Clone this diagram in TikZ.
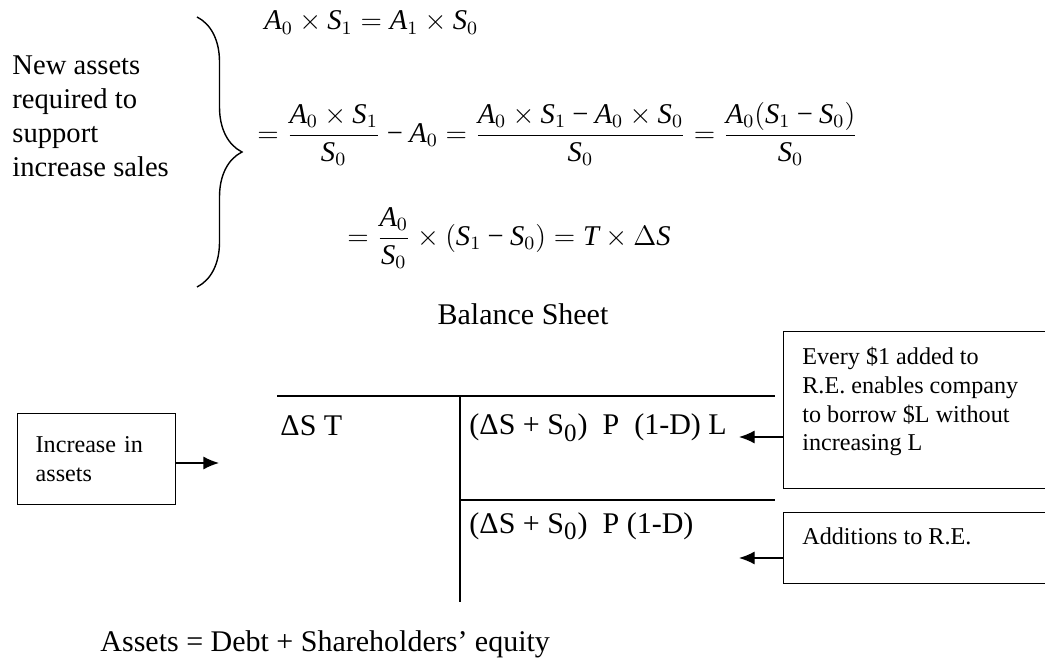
\documentclass[tikz,border=0pt]{standalone}
\usepackage{fontspec}
\setmainfont{Liberation Serif}
\usepackage[italic]{mathastext}
\usetikzlibrary{arrows.meta,calc,positioning,decorations.pathreplacing}

\DeclareMathSizes{12.2}{12.2}{7.6}{6}
\newcommand\mminus{\mathbin{\mbox{−}}}

\tikzset{
  txt/.style={inner sep=0pt, font=\fontsize{12.8}{15}\selectfont},
  eqn/.style={inner sep=0pt, font=\fontsize{12.2}{15}\selectfont},
  notebox/.style={draw, semithick, anchor=north west, inner xsep=0.28cm, inner ysep=0.23cm, font=\fontsize{10.3}{12.3}\selectfont},
  tline/.style={thick},
  flow/.style={semithick, -{Latex[length=6.7pt,width=5.6pt]}}
}

\begin{document}
\begin{tikzpicture}[x=0.015cm, y=-0.015cm]
\useasboundingbox (0,0) rectangle (1045,661);
\node[txt, anchor=north west, align=left, font=\fontsize{12.2}{14.5}\selectfont] (need) at (12,55) {New assets\\required to\\support\\increase sales};
\draw[semithick, decorate, decoration={brace, amplitude=0.675cm}] (197,17) -- (197,287);
\node[eqn, anchor=base west] (eqA) at (264,30) {$A_0\times S_1= A_1\times S_0$};
\node[eqn, anchor=west] (eqB) at (257,134) {$\displaystyle =\frac{A_0\times S_1}{S_0}\mminus A_0=\frac{A_0\times S_1\mminus A_0\times S_0}{S_0}=\frac{A_0(S_1\mminus S_0)}{S_0}$};
\node[eqn, anchor=west] (eqC) at (347,238) {$\displaystyle =\frac{A_0}{S_0}\times(S_1\mminus S_0)=T\times\Delta S$};

\node[txt, anchor=base] (title) at (523,325) {Balance Sheet};
\coordinate (tl) at (277,396);
\coordinate (tr) at (775,396);
\coordinate (vt) at (460,396);
\coordinate (vb) at (460,602);
\coordinate (ml) at (460,500);
\coordinate (mr) at (775,500);
\draw[tline] (tl) -- (tr);
\draw[tline] (vt) -- (vb);
\draw[tline] (ml) -- (mr);
\node[txt, anchor=base west] (assets) at (280,436) {ΔS T};
\node[txt, anchor=base west] (debt) at (469,435) {(ΔS + S\textsubscript{0})\ \ P\ \ (1-D) L};
\node[txt, anchor=base west] (equity) at (469,533) {(ΔS + S\textsubscript{0})\ \ P (1-D)};

\node[notebox, align=left, inner xsep=0.27cm, text width=1.83cm, minimum height=1.365cm] (incr) at (17,413) {Increase in\\assets};
\node[notebox] (every) at (783,331) {\parbox[t][1.895cm][t]{3.9cm}{Every \$1 added to\\R.E. enables company\\to borrow \$L without\\increasing L}};
\node[notebox] (addre) at (783,512) {\parbox[t][0.605cm][t]{3.9cm}{Additions to R.E.}};

\coordinate (inA) at (219,463);
\coordinate (inD) at (739,437);
\coordinate (inE) at (739,558);
\draw[flow] (incr.east |- inA) -- (inA);
\draw[flow] (every.west |- inD) -- (inD);
\draw[flow] (addre.west |- inE) -- (inE);

\node[txt, anchor=base west] (identity) at (100,651) {Assets = Debt + Shareholders’ equity};
\end{tikzpicture}
\end{document}
